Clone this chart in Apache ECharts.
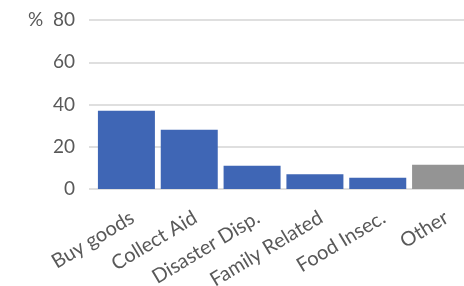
<!DOCTYPE html>
<html><head><meta charset="utf-8">
<script src="https://cdn.jsdelivr.net/npm/echarts@6/dist/echarts.min.js"></script>
<style>html,body{margin:0;padding:0;background:#fff;overflow:hidden}#c{width:478px;height:286px}</style>
</head><body><div id="c"></div>
<script>
const categories = ['Buy goods', 'Collect Aid', 'Disaster Disp.', 'Family Related', 'Food Insec.', 'Other'];
const values = [37, 28, 11, 7, 5.3, 11.5];
const barColors = ['#3f66b5', '#3f66b5', '#3f66b5', '#3f66b5', '#3f66b5', '#949494'];
const yTicks = [0, 20, 40, 60, 80];

const chart = echarts.init(document.getElementById('c'), null, {renderer: 'canvas'});
const font = 'Lato, "Open Sans", sans-serif';
const g = (left, right) => ({left, right, top: 20, height: 169, outerBoundsMode: 'none', containLabel: false});
const yMinMax = {type: 'value', min: yTicks[0], max: yTicks[yTicks.length - 1], interval: 20};
chart.setOption({
  animation: false,
  grid: [g(89, 14), g(95, 6), g(101, 0)],
  xAxis: [
    {gridIndex: 0, type: 'category', data: categories, show: false},
    {gridIndex: 1, type: 'category', data: categories, show: false},
    {gridIndex: 2, type: 'category', data: categories,
     axisLine: {show: false}, axisTick: {show: false},
     axisLabel: {rotate: 31, margin: 27, color: '#595959', fontSize: 20, fontFamily: font, interval: 0}}
  ],
  yAxis: [
    Object.assign({gridIndex: 0,
     axisLine: {show: false}, axisTick: {show: false},
     splitLine: {lineStyle: {color: '#d4d4d4', width: 1.5}},
     axisLabel: {margin: 14, color: '#595959', fontSize: 19, fontFamily: font,
       formatter: v => v === 80 ? '%  80' : String(v)}}, yMinMax),
    Object.assign({gridIndex: 1, show: false, splitLine: {show: false}}, yMinMax),
    Object.assign({gridIndex: 2, show: false, splitLine: {show: false}}, yMinMax)
  ],
  series: [{
    type: 'bar', xAxisIndex: 1, yAxisIndex: 1, barWidth: 57,
    data: values.map((v, i) => ({value: v, itemStyle: {color: barColors[i]}}))
  }]
});
</script></body></html>
